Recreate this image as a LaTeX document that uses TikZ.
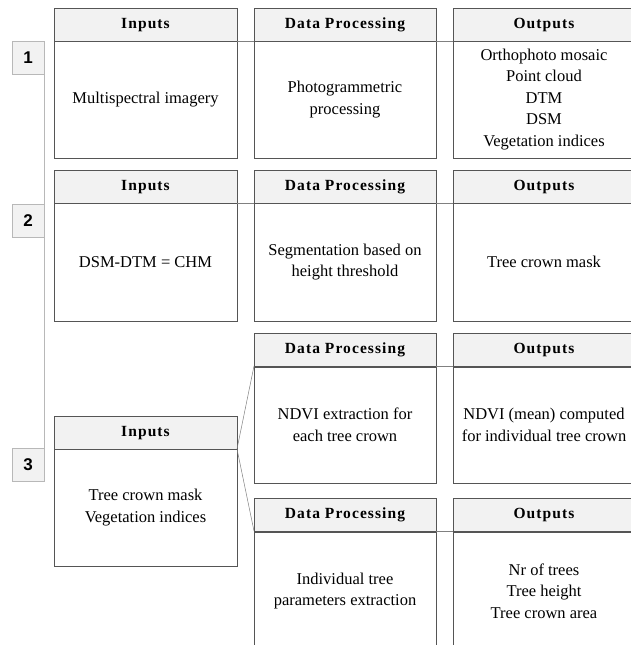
\documentclass[tikz,border=0pt]{standalone}
\usepackage{fontspec}
\setmainfont{Liberation Serif}
\newfontfamily\numfont{Liberation Sans}
\newfontfamily\hdrfont[LetterSpace=7,BoldFont={Liberation Serif Bold}]{Liberation Serif}
\definecolor{hdrfill}{HTML}{F2F2F2}
\definecolor{boxline}{HTML}{555555}
\definecolor{lightline}{HTML}{B8B8B8}
\begin{document}
\begin{tikzpicture}[x=1pt,y=-1pt,
  hdr/.style={draw=boxline,line width=0.9pt,fill=hdrfill,anchor=north west,inner sep=0pt,outer sep=0pt,
    minimum height=33pt,text depth=2pt,font=\hdrfont\fontsize{15.5}{18}\selectfont\bfseries},
  bodybox/.style={draw=boxline,line width=0.9pt,fill=white,anchor=north west,inner sep=0pt,outer sep=0pt,
    align=center,font=\fontsize{16.5}{21.5}\selectfont},
  numbox/.style={draw=lightline,line width=0.6pt,fill=hdrfill,anchor=north west,inner sep=0pt,outer sep=0pt,
    minimum width=32pt,minimum height=33pt,font=\numfont\fontsize{17}{20}\selectfont\bfseries},
  conn/.style={draw=gray,line width=0.5pt},
  wIn/.style={minimum width=183pt},
  wDP/.style={minimum width=182pt},
  wOut/.style={minimum width=182pt}]
\useasboundingbox (0,0) rectangle (631,645);
% Row 1
\node[hdr,wIn] (in1h) at (54,8) {Inputs};
\node[bodybox,wIn,minimum height=117pt] (in1b) at (54,41) {Multispectral imagery};
\node[hdr,wDP] (dp1h) at (254,8) {Data Processing};
\node[bodybox,wDP,minimum height=117pt] (dp1b) at (254,41) {Photogrammetric\\processing};
\node[hdr,wOut] (out1h) at (453,8) {Outputs};
\node[bodybox,wOut,minimum height=117pt] (out1b) at (453,41) {Orthophoto mosaic\\Point cloud\\DTM\\DSM\\Vegetation indices};
% Row 2
\node[hdr,wIn] (in2h) at (54,170) {Inputs};
\node[bodybox,wIn,minimum height=118pt] (in2b) at (54,203) {DSM-DTM = CHM};
\node[hdr,wDP] (dp2h) at (254,170) {Data Processing};
\node[bodybox,wDP,minimum height=118pt] (dp2b) at (254,203) {Segmentation based on\\height threshold};
\node[hdr,wOut] (out2h) at (453,170) {Outputs};
\node[bodybox,wOut,minimum height=118pt] (out2b) at (453,203) {Tree crown mask};
% Row 3
\node[hdr,wIn] (in3h) at (54,416) {Inputs};
\node[bodybox,wIn,minimum height=117pt] (in3b) at (54,449) {Tree crown mask\\Vegetation indices};
\node[hdr,wDP] (dp3h) at (254,333) {Data Processing};
\node[bodybox,wDP,minimum height=116pt] (dp3b) at (254,367) {NDVI extraction for\\each tree crown};
\node[hdr,wOut] (out3h) at (453,333) {Outputs};
\node[bodybox,wOut,minimum height=116pt] (out3b) at (453,367) {NDVI (mean) computed\\for individual tree crown};
\node[hdr,wDP] (dp4h) at (254,498) {Data Processing};
\node[bodybox,wDP,minimum height=118pt] (dp4b) at (254,532) {Individual tree\\parameters extraction};
\node[hdr,wOut] (out4h) at (453,498) {Outputs};
\node[bodybox,wOut,minimum height=118pt] (out4b) at (453,532) {Nr of trees\\Tree height\\Tree crown area};
% Header connectors
\draw[conn] (in1h.south east) -- (dp1h.south west);
\draw[conn] (dp1h.south east) -- (out1h.south west);
\draw[conn] (in2h.south east) -- (dp2h.south west);
\draw[conn] (dp2h.south east) -- (out2h.south west);
\draw[conn] (in3h.south east) -- (dp3h.south west);
\draw[conn] (in3h.south east) -- (dp4h.south west);
\draw[conn] (dp3h.south east) -- (out3h.south west);
\draw[conn] (dp4h.south east) -- (out4h.south west);
% Step numbers
\node[numbox] (n1) at (12,41) {1};
\node[numbox] (n2) at (12,204) {2};
\node[numbox] (n3) at (12,448) {3};
\draw[draw=lightline,line width=0.8pt] (n1.south east) -- (n2.north east);
\draw[draw=lightline,line width=0.8pt] (n2.south east) -- (n3.north east);
\end{tikzpicture}
\end{document}
